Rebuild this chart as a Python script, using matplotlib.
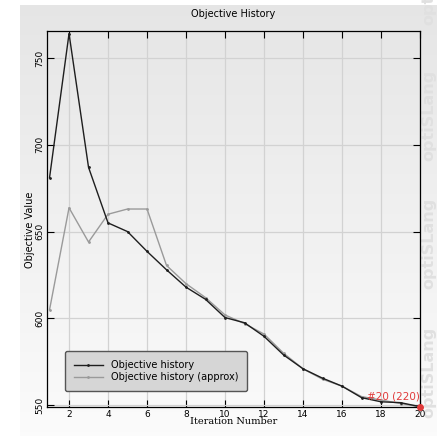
import numpy as np
import matplotlib.pyplot as plt

# objective value per iteration
iterations = list(range(1, 21))
objective = [681, 764, 687, 655, 650, 638.6, 628, 618, 611, 600.5,
             597.5, 589.7, 579, 571, 565.6, 561, 554.4, 552, 551.5, 549.2]
objective_approx = [605, 663.7, 644, 660, 663, 663, 630.5, 620, 612, 602,
                    597, 591, 580, 571, 565, 561, 555, 553, 551, 549.2]
best_label = "#20 (220)"
xticks = list(range(2, 21, 2))
yticks = [550, 600, 650, 700, 750]

W, H = 437, 438
fig = plt.figure(figsize=(W / 100, H / 100), dpi=100, facecolor='white')

# grey gradient backdrop behind everything
bg = fig.add_axes([20 / W, 2 / H, 417 / W, 431 / H], zorder=-10)
grad = np.linspace(0.90, 0.985, 256).reshape(-1, 1)
bg.imshow(np.dstack([grad, grad, grad]), aspect='auto', extent=(0, 1, 0, 1))
bg.axis('off')

# watermark down the right edge
for yc in [372, 243, 115, -21]:
    fig.text(429 / W, 1 - yc / H, 'optiSLang', rotation=90, ha='center', va='center',
             fontsize=11.5, fontweight='bold', color='#e0e0e0', zorder=-5)

ax = fig.add_axes([47 / W, 31 / H, 373 / W, 376 / H])
ax.set_facecolor('none')

ax.plot(iterations, objective, color='#1e1e1e', lw=1.0, marker='.', ms=2,
        label='Objective history', zorder=3)
ax.plot(iterations, objective_approx, color='#9a9a9a', lw=1.0, marker='.', ms=2,
        label='Objective history (approx)', zorder=2)

ax.plot(iterations[-1], objective[-1], 'o', color='#e03a3a', ms=4, zorder=4,
        clip_on=False)
ax.text(iterations[-1], 555, best_label, color='#e03a3a', fontsize=7.5,
        ha='right', va='center', zorder=4)

ax.set_xlim(0.87, 20)
ax.set_ylim(549, 765.5)
ax.set_xticks(xticks)
ax.set_yticks(yticks)
ax.grid(True, color='#d2d2d2', lw=0.9)
ax.set_axisbelow(True)
ax.tick_params(direction='in', length=5, width=0.8, top=True, right=True,
               labelsize=6.5, pad=2)
for lab in ax.get_yticklabels():
    lab.set_rotation(90)
    lab.set_va('center')
for sp in ax.spines.values():
    sp.set_linewidth(0.9)

ax.set_title('Objective History', fontsize=7, pad=10)
ax.set_xlabel('Iteration Number', fontsize=7, family='DejaVu Serif', labelpad=-1)
ax.set_ylabel('Objective Value', fontsize=7)
ax.yaxis.set_label_coords(-0.033, 0.47)

leg = ax.legend(loc='lower left', bbox_to_anchor=(0.035, 0.03), fontsize=7,
                frameon=True, fancybox=True, handlelength=3, borderpad=0.9,
                labelspacing=0.2)
leg.get_frame().set_facecolor('#d6d6d6')
leg.get_frame().set_edgecolor('#555555')
leg.get_frame().set_alpha(1)
leg.get_frame().set_linewidth(1.0)
leg.set_zorder(5)

fig.savefig('out.png', dpi=100, facecolor='white')
